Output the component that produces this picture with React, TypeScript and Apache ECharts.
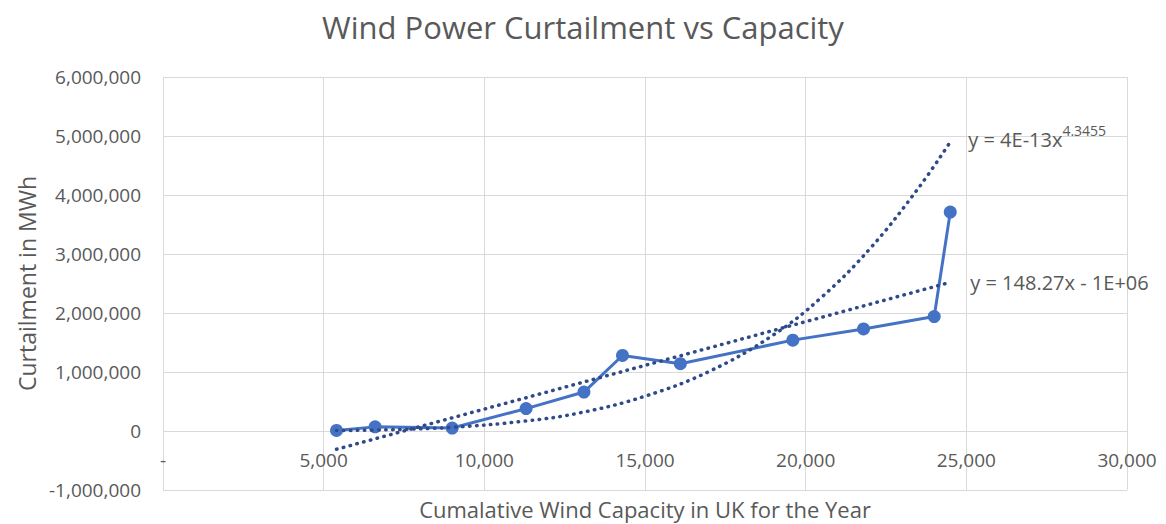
import React, { useEffect, useRef } from "react";
import * as echarts from "echarts";

const capacity = [5400, 6600, 9000, 11300, 13100, 14300, 16100, 19600, 21800, 24000, 24500];
const curtailment = [10000, 70000, 50000, 380000, 660000, 1280000, 1140000, 1540000, 1730000, 1940000, 3710000];

const linearTrendX = [5400, 24500];
const linearTrendY = [-310000, 2520000];

const powerTrendX = [5400, 7000, 9000, 11300, 13000, 15000, 17000, 19000, 20500, 22000, 23500, 24500];
const powerTrendY = [7000, 21000, 63000, 170000, 310000, 590000, 1010000, 1630000, 2270000, 3090000, 4110000, 4900000];

const xTicks = { min: 0, max: 30000, interval: 5000 };
const yTicks = { min: -1000000, max: 6000000, interval: 1000000 };

const titleText = "Wind Power Curtailment vs Capacity";
const xName = "Cumalative Wind Capacity in UK for the Year";
const yName = "Curtailment in MWh";
const linearEq = "y = 148.27x - 1E+06";
const powerEqBase = "y = 4E-13x";
const powerEqExp = "4.3455";

const FONT = "'Open Sans', sans-serif";
const TEXT = "#595959";
const GRID = "#D9D9D9";
const BLUE = "#4472C4";
const TREND = "#2F4A8A";

const fmt = (v: number) => v.toLocaleString("en-US");

export default function App() {
  const ref = useRef<HTMLDivElement>(null);
  useEffect(() => {
    document.body.style.margin = "0";
    const chart = echarts.init(ref.current!, null, { renderer: "svg" });
    const zip = (xs: number[], ys: number[]) => xs.map((x, i) => [x, ys[i]]);
    chart.setOption({
      animation: false,
      backgroundColor: "#ffffff",
      textStyle: { fontFamily: FONT },
      title: {
        text: titleText,
        left: "center",
        top: 6,
        textStyle: { fontFamily: FONT, fontSize: 31, fontWeight: "normal", color: TEXT },
      },
      grid: { left: 163, right: 39, top: 77, bottom: 34, containLabel: false, outerBoundsMode: "none" },
      xAxis: {
        type: "value",
        ...xTicks,
        name: xName,
        nameLocation: "middle",
        nameGap: 8,
        nameTextStyle: { fontFamily: FONT, fontSize: 22, color: TEXT },
        axisLine: { show: false, onZero: false },
        axisTick: { show: false },
        axisLabel: {
          margin: -40,
          fontFamily: FONT,
          fontSize: 19,
          color: TEXT,
          formatter: (v: number) => (v === 0 ? "-" : fmt(v)),
        },
        splitLine: { show: true, lineStyle: { color: GRID, width: 1 } },
      },
      yAxis: {
        type: "value",
        ...yTicks,
        name: yName,
        nameLocation: "middle",
        nameGap: 124,
        nameTextStyle: { fontFamily: FONT, fontSize: 23, color: TEXT },
        axisLine: { show: false },
        axisTick: { show: false },
        axisLabel: { margin: 22, fontFamily: FONT, fontSize: 19, color: TEXT, formatter: (v: number) => fmt(v) },
        splitLine: { show: true, lineStyle: { color: GRID, width: 1 } },
      },
      series: [
        {
          type: "line",
          name: "Curtailment",
          data: zip(capacity, curtailment),
          lineStyle: { color: BLUE, width: 3 },
          itemStyle: { color: BLUE },
          symbol: "circle",
          symbolSize: 13,
          z: 2,
        },
        {
          type: "line",
          name: "Linear trend",
          data: zip(linearTrendX, linearTrendY),
          showSymbol: false,
          symbol: "none",
          lineStyle: { color: TREND, width: 3.5, type: [0.5, 6.5], cap: "round" },
          endLabel: {
            show: true,
            distance: 20,
            formatter: linearEq,
            fontFamily: FONT,
            fontSize: 20,
            color: TEXT,
          },
          z: 3,
        },
        {
          type: "line",
          name: "Power trend",
          data: zip(powerTrendX, powerTrendY),
          smooth: 0.4,
          showSymbol: false,
          symbol: "none",
          lineStyle: { color: TREND, width: 3.5, type: [0.5, 6.5], cap: "round" },
          endLabel: {
            show: true,
            distance: 18,
            offset: [0, -5],
            formatter: "{a|" + powerEqBase + "}{b|" + powerEqExp + "}",
            rich: {
              a: { fontFamily: FONT, fontSize: 20, color: TEXT, lineHeight: 26, verticalAlign: "bottom" },
              b: { fontFamily: FONT, fontSize: 14, color: TEXT, lineHeight: 26, verticalAlign: "top", padding: [0, 0, 8, 0] },
            },
          },
          z: 3,
        },
      ],
    });
    return () => chart.dispose();
  }, []);
  return <div ref={ref} style={{ width: 1166, height: 524 }} />;
}
